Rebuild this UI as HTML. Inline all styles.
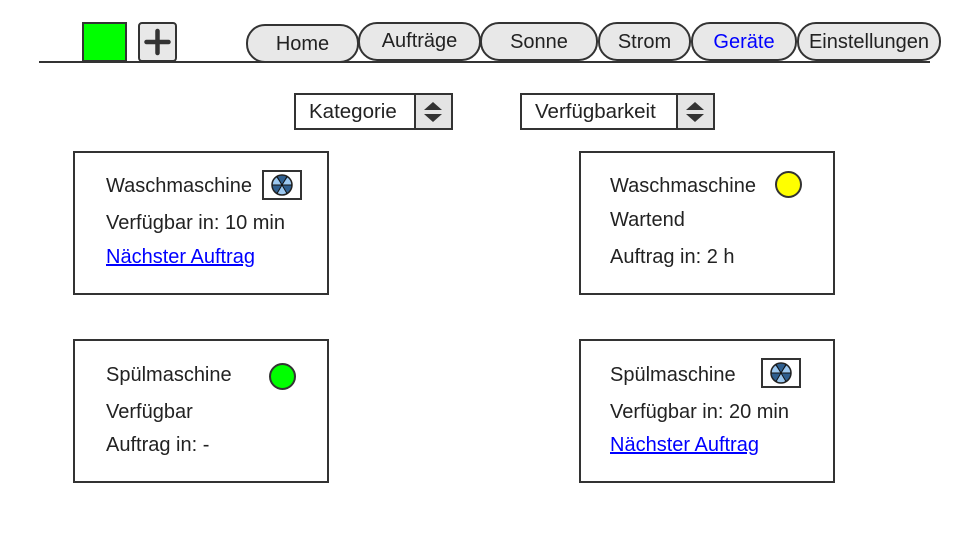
<!DOCTYPE html>
<html><head><meta charset="utf-8"><style>
body{margin:0;width:979px;height:534px;background:#fff;position:relative;overflow:hidden;font-family:"Liberation Sans",sans-serif;color:#222}
.a{position:absolute;box-sizing:border-box}
.tab{position:absolute;box-sizing:border-box;border:2px solid #333;border-radius:19px;background:#e8e8e8;font-size:20px;text-align:center;line-height:36px}
.card{position:absolute;box-sizing:border-box;border:2px solid #333;width:256px;height:144px}
.t{position:absolute;font-size:20px;white-space:nowrap;line-height:22px}
.lnk{color:#00f;text-decoration:underline}
.dd{position:absolute;box-sizing:border-box;border:2px solid #333;height:37px;font-size:20.5px;line-height:34px}
.arr{position:absolute;top:0;right:0;width:37px;height:33px;border-left:2px solid #333;background:#e4e4e4;box-sizing:border-box}
</style></head><body>
<div class="a" style="left:82px;top:22px;width:45px;height:40px;background:#0f0;border:2px solid #333"></div>
<div class="a" style="left:138px;top:22px;width:39px;height:40px;background:#e8e8e8;border:2px solid #333;border-radius:4px">
<svg width="35" height="36" style="position:absolute;left:0;top:0"><path d="M17.5 7V29M6.5 18H28.5" stroke="#333" stroke-width="4.5" stroke-linecap="round"/></svg></div>
<div class="tab" style="left:246px;top:24px;width:113px;height:39px">Home</div>
<div class="tab" style="left:358px;top:22px;width:123px;height:39px;line-height:35px">Aufträge</div>
<div class="tab" style="left:480px;top:22px;width:118px;height:39px">Sonne</div>
<div class="tab" style="left:598px;top:22px;width:93px;height:39px">Strom</div>
<div class="tab" style="left:691px;top:22px;width:106px;height:39px;color:#00f">Geräte</div>
<div class="tab" style="left:797px;top:22px;width:144px;height:39px">Einstellungen</div>
<div class="a" style="left:39px;top:61px;width:891px;height:2px;background:#333"></div>

<div class="dd" style="left:294px;top:93px;width:159px;padding-left:13px">Kategorie<div class="arr"><svg width="35" height="33"><path d="M8 15L17 7L26 15Z M8 19L17 27L26 19Z" fill="#333"/></svg></div></div>
<div class="dd" style="left:520px;top:93px;width:195px;padding-left:13px">Verfügbarkeit<div class="arr"><svg width="35" height="33"><path d="M8 15L17 7L26 15Z M8 19L17 27L26 19Z" fill="#333"/></svg></div></div>

<div class="card" style="left:73px;top:151px"></div>
<div class="t" style="left:106px;top:175px">Waschmaschine</div>
<div class="t" style="left:106px;top:212px">Verfügbar in: 10 min</div>
<div class="t lnk" style="left:106px;top:246px">Nächster Auftrag</div>
<div class="a" style="left:262px;top:170px;width:40px;height:30px;border:2px solid #333">
<svg width="36" height="26"><circle cx="18" cy="13" r="10" fill="#9cc8f0"/><path d="M18 13L12 5A10 10 0 0 1 24 5Z M18 13L28 13A10 10 0 0 1 23 21.7Z M18 13L13 21.7A10 10 0 0 1 8 13Z" fill="#2f5f8f"/><circle cx="18" cy="13" r="10" fill="none" stroke="#222" stroke-width="1.5"/><path d="M8 13H28M13 4.5L23 21.5M23 4.5L13 21.5" stroke="#111" stroke-width="1"/></svg></div>

<div class="card" style="left:579px;top:151px"></div>
<div class="t" style="left:610px;top:175px">Waschmaschine</div>
<div class="t" style="left:610px;top:209px">Wartend</div>
<div class="t" style="left:610px;top:246px">Auftrag in: 2 h</div>
<div class="a" style="left:775px;top:171px;width:27px;height:27px;border-radius:50%;background:#ff0;border:2px solid #333"></div>

<div class="card" style="left:73px;top:339px"></div>
<div class="t" style="left:106px;top:364px">Spülmaschine</div>
<div class="t" style="left:106px;top:401px">Verfügbar</div>
<div class="t" style="left:106px;top:434px">Auftrag in: -</div>
<div class="a" style="left:269px;top:363px;width:27px;height:27px;border-radius:50%;background:#0f0;border:2px solid #333"></div>

<div class="card" style="left:579px;top:339px"></div>
<div class="t" style="left:610px;top:364px">Spülmaschine</div>
<div class="t" style="left:610px;top:401px">Verfügbar in: 20 min</div>
<div class="t lnk" style="left:610px;top:434px">Nächster Auftrag</div>
<div class="a" style="left:761px;top:358px;width:40px;height:30px;border:2px solid #333">
<svg width="36" height="26"><circle cx="18" cy="13" r="10" fill="#9cc8f0"/><path d="M18 13L12 5A10 10 0 0 1 24 5Z M18 13L28 13A10 10 0 0 1 23 21.7Z M18 13L13 21.7A10 10 0 0 1 8 13Z" fill="#2f5f8f"/><circle cx="18" cy="13" r="10" fill="none" stroke="#222" stroke-width="1.5"/><path d="M8 13H28M13 4.5L23 21.5M23 4.5L13 21.5" stroke="#111" stroke-width="1"/></svg></div>
</body></html>
